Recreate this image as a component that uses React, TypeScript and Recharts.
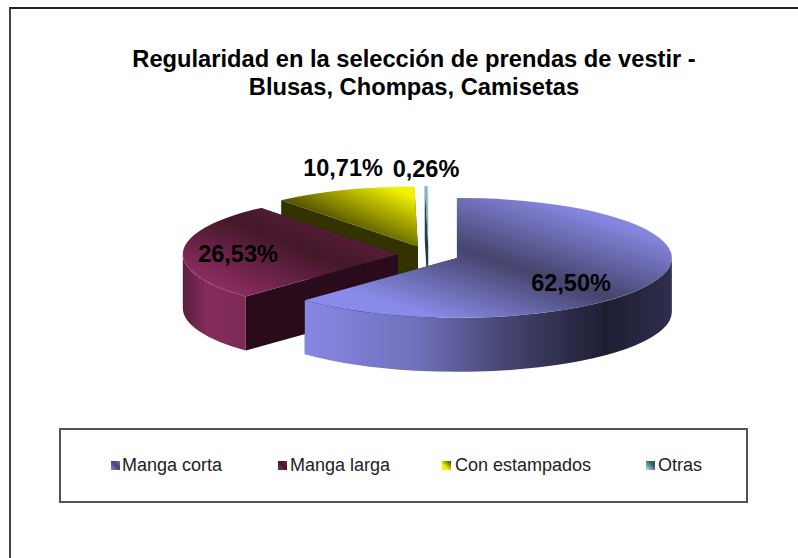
import { Legend, Pie, PieChart } from "recharts";

const titleLines = [
  "Regularidad en la selección de prendas de vestir -",
  "Blusas, Chompas, Camisetas",
];
const categories = ["Manga corta", "Manga larga", "Con estampados", "Otras"];
const shares = [62.5, 26.53, 10.71, 0.26];

// painted back to front, so the pie runs anticlockwise from 12 o'clock
const pieData = categories
  .map((name, i) => ({ name, value: shares[i] }))
  .reverse();

const FONT = "'Liberation Sans', Arial, sans-serif";
const WIDTH = 798;
const HEIGHT = 558;
const CX = 428.5;
const CY = 254.6;
const RADIUS = 215;
const SQUASH = 0.279;
const DEPTH = 54;
const EXPLODE = 30.7;

const slug = (name: string) => name.replace(/\s/g, "");

const topStops: Record<string, [number, string][]> = {
  "Manga corta": [[0.18, "#8a8ae8"], [0.5, "#44446c"], [0.82, "#8686e0"]],
  "Manga larga": [[0.15, "#8a2c5e"], [0.55, "#431729"], [0.95, "#6a2448"]],
  "Con estampados": [[0, "#3a3a00"], [0.35, "#444400"], [0.9, "#f2f200"]],
  Otras: [[0, "#2c5c5c"], [1, "#b4e8e8"]],
};
const wallStops: Record<string, [number, string][]> = {
  "Manga corta": [[0, "#8888e4"], [0.3, "#7070bc"], [0.55, "#454570"], [0.82, "#1d1d32"], [1, "#2e2e4e"]],
  "Manga larga": [[0, "#591f3e"], [0.4, "#862b5b"], [1, "#7e2956"]],
  "Con estampados": [[0, "#6a6a00"], [1, "#6a6a00"]],
  Otras: [[0, "#2c5c5c"], [1, "#2c5c5c"]],
};
const cutColors: Record<string, string> = {
  "Manga corta": "#23233c",
  "Manga larga": "#2a0b1c",
  "Con estampados": "#333300",
  Otras: "#1f4040",
};
const legendLayout: Record<string, { marker: number; text: number }> = {
  "Manga corta": { marker: 50, text: 61 },
  "Manga larga": { marker: 217, text: 229 },
  "Con estampados": { marker: 381, text: 394 },
  Otras: { marker: 585, text: 597 },
};
const legendSwatch: Record<string, string> = {
  "Manga corta": "linear-gradient(45deg,#8888e6,#45456e 55%,#7070c0)",
  "Manga larga": "linear-gradient(45deg,#8a2c5e,#431729 55%,#6a2448)",
  "Con estampados": "linear-gradient(45deg,#f2f200,#f2f200 35%,#3a3a00)",
  Otras: "linear-gradient(45deg,#b4e8e8,#2c5c5c 70%)",
};
// label centres, measured from the pie centre
const labelOffsets: Record<string, [number, number]> = {
  "Manga corta": [142.5, 28.4],
  "Manga larga": [-190.5, -0.6],
  "Con estampados": [-85.5, -86.6],
  Otras: [-2.5, -85.6],
};

function Gradients() {
  const grad = (id: string, stops: [number, string][], x1: number, y1: number, x2: number, y2: number) => (
    <linearGradient key={id} id={id} x1={x1} y1={y1} x2={x2} y2={y2}>
      {stops.map(([o, c]) => (
        <stop key={o} offset={o} stopColor={c} />
      ))}
    </linearGradient>
  );
  return (
    <defs>
      {categories.map((c) => grad(`top-${slug(c)}`, topStops[c], 0, 1, 1, 0))}
      {categories.map((c) => grad(`wall-${slug(c)}`, wallStops[c], 0, 0, 1, 0))}
    </defs>
  );
}

function Slice3D(props: any) {
  const { cx, cy, outerRadius: r, startAngle, endAngle, midAngle, name } = props;
  const rad = (d: number) => (d * Math.PI) / 180;
  const ox = cx + Math.cos(rad(midAngle)) * EXPLODE;
  const oy = cy - Math.sin(rad(midAngle)) * EXPLODE * SQUASH;
  const ry = r * SQUASH;
  const pt = (a: number, dy = 0) =>
    `${ox + Math.cos(rad(a)) * r} ${oy - Math.sin(rad(a)) * ry + dy}`;
  const arc = (a: number, b: number, dy = 0, sweep = 0) =>
    `A ${r} ${ry} 0 ${Math.abs(b - a) > 180 ? 1 : 0} ${sweep} ${pt(b, dy)}`;
  const cut = (a: number) =>
    `M ${ox} ${oy} L ${pt(a)} L ${pt(a, DEPTH)} L ${ox} ${oy + DEPTH} Z`;

  const wallFrom = Math.max(startAngle, 180);
  const wallTo = Math.min(endAngle, 360);
  const id = slug(name);

  return (
    <g>
      <path d={cut(startAngle)} fill={cutColors[name]} />
      <path d={cut(endAngle)} fill={cutColors[name]} />
      {wallFrom < wallTo && (
        <path
          d={`M ${pt(wallFrom)} ${arc(wallFrom, wallTo)} L ${pt(wallTo, DEPTH)} ${arc(wallTo, wallFrom, DEPTH, 1)} Z`}
          fill={`url(#wall-${id})`}
        />
      )}
      <path
        d={`M ${ox} ${oy} L ${pt(startAngle)} ${arc(startAngle, endAngle)} Z`}
        fill={`url(#top-${id})`}
      />
    </g>
  );
}

function SliceLabel(props: any) {
  const { cx, cy, name, value } = props;
  const [dx, dy] = labelOffsets[name];
  return (
    <text
      x={cx + dx}
      y={cy + dy}
      textAnchor="middle"
      dominantBaseline="central"
      fontFamily={FONT}
      fontWeight="bold"
      fontSize={23.5}
      fill="#000"
    >
      {`${value.toFixed(2).replace(".", ",")}%`}
    </text>
  );
}

function LegendBox() {
  return (
    <div style={{ position: "relative", width: "100%", height: "100%" }}>
      {categories.map((c) => (
        <div key={c}>
          <span
            style={{
              position: "absolute",
              left: legendLayout[c].marker,
              top: 31,
              width: 9,
              height: 9,
              background: legendSwatch[c],
            }}
          />
          <span
            style={{
              position: "absolute",
              left: legendLayout[c].text,
              top: 24,
              fontFamily: FONT,
              fontSize: 18,
              lineHeight: "22px",
              color: "#222",
              whiteSpace: "nowrap",
            }}
          >
            {c}
          </span>
        </div>
      ))}
    </div>
  );
}

export default function App() {
  return (
    <div style={{ position: "absolute", left: 0, top: 0, width: WIDTH, height: HEIGHT, overflow: "hidden", background: "#fff" }}>
      <div
        style={{
          position: "absolute",
          left: 9,
          top: 7,
          width: WIDTH,
          height: HEIGHT,
          borderLeft: "2px solid #444",
          borderTop: "2px solid #222",
        }}
      />
      <div style={{ position: "absolute", left: 0, top: 0 }}>
        <PieChart width={WIDTH} height={HEIGHT} margin={{ top: 0, right: 0, bottom: 0, left: 0 }}>
          <Gradients />
          {titleLines.map((line, i) => (
            <text
              key={line}
              x={414}
              y={67 + i * 28}
              textAnchor="middle"
              fontFamily={FONT}
              fontWeight="bold"
              fontSize={23.7}
              fill="#000"
            >
              {line}
            </text>
          ))}
          <Pie
            data={pieData}
            dataKey="value"
            nameKey="name"
            cx={CX}
            cy={CY}
            innerRadius={0}
            outerRadius={RADIUS}
            startAngle={90}
            endAngle={450}
            paddingAngle={0}
            stroke="none"
            shape={Slice3D}
            label={SliceLabel}
            labelLine={false}
            isAnimationActive={false}
          />
          <Legend
            content={<LegendBox />}
            wrapperStyle={{
              position: "absolute",
              left: 59,
              top: 428,
              bottom: "auto",
              width: 689,
              height: 75,
              boxSizing: "border-box",
              border: "2px solid #555",
            }}
          />
        </PieChart>
      </div>
    </div>
  );
}
